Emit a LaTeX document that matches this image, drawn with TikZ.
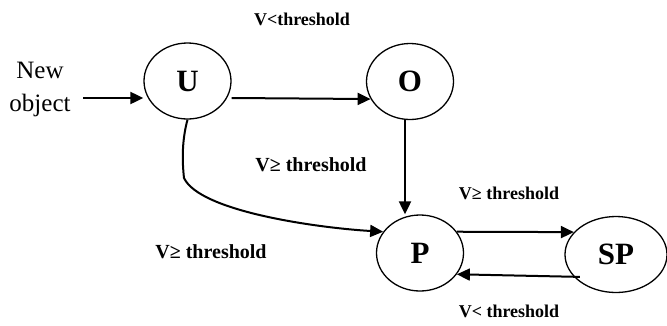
\documentclass[tikz,border=0pt]{standalone}
\usepackage{fontspec}
\setmainfont{Liberation Serif}
\usetikzlibrary{shapes.geometric,arrows.meta}
\begin{document}
\begin{tikzpicture}[x=1pt,y=-1pt,
  state/.style={draw,ellipse,line width=1.3pt,inner sep=0pt,
    minimum width=87pt,minimum height=76pt,font=\fontsize{31}{31}\selectfont\bfseries},
  arr/.style={line width=2pt,-{Triangle[length=13pt,width=12pt]}},
  lbl/.style={font=\fontsize{20}{20}\selectfont\bfseries,inner sep=0pt},
  slbl/.style={font=\fontsize{18}{18}\selectfont\bfseries,inner sep=0pt}]
\useasboundingbox (0,0) rectangle (667,325);
% states
\node[state] (U) at (187.5,81) {U};
\node[state] (O) at (410,81.5) {O};
\node[state] (P) at (420,253) {P};
\node[state,minimum width=102pt] (SP) at (616,254.5) {SP};
% entry
\node[align=center,font=\fontsize{25}{33}\selectfont,inner sep=0pt] (new) at (40,89) {New\\object};
\coordinate (in) at (83,98);
% transitions
\draw[arr] (in) -- ([yshift=-17pt]U.west);
\draw[arr] ([yshift=-17pt]U.east) -- (O.204);
\draw[arr] ([xshift=-5pt]O.south) -- ([xshift=-5pt]O.south |- P.north);
\draw[arr] (U.south) .. controls (182,140) and (182,160) .. (184,178)
  .. controls (200,212) and (320,228) .. (P.150);
\draw[arr] (P.30) -- (SP.152);
\draw[arr] ([xshift=6pt]SP.208) -- (P.-30);
% labels
\node[slbl] (l1) at (302,19) {V<threshold};
\node[lbl] (l2) at (311,165) {V≥ threshold};
\node[lbl] (l3) at (211,252) {V≥ threshold};
\node[slbl] (l4) at (509,193) {V≥ threshold};
\node[slbl] (l5) at (509,311) {V< threshold};
\end{tikzpicture}
\end{document}
